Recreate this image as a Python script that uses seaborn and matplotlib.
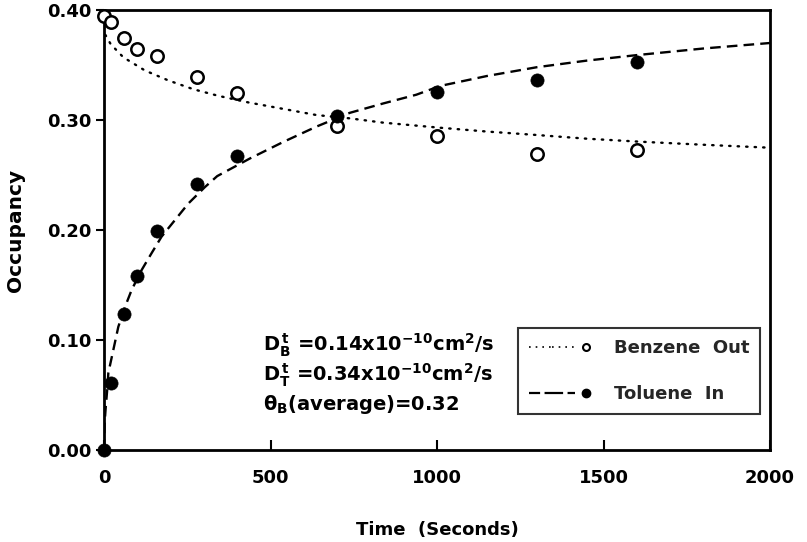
import matplotlib
matplotlib.use("Agg")
import matplotlib.pyplot as plt
import seaborn as sns
import pandas as pd
from matplotlib.lines import Line2D
from matplotlib.legend_handler import HandlerTuple

# ---- data ----
time_s = [0, 20, 60, 100, 160, 280, 400, 700, 1000, 1300, 1600]
benzene_out = [0.395, 0.389, 0.375, 0.365, 0.358, 0.339, 0.325, 0.295, 0.2855, 0.269, 0.273]
toluene_in = [0.0, 0.061, 0.124, 0.158, 0.199, 0.242, 0.267, 0.304, 0.3255, 0.336, 0.353]

benz_fit_t = [0, 3, 20, 58, 123, 193, 268, 343, 433, 540, 638, 738, 838, 1008, 1150, 1298, 1450, 1608, 1800, 2000]
benz_fit_y = [0.385, 0.378, 0.369, 0.357, 0.345, 0.336, 0.328, 0.322, 0.316, 0.310, 0.3045, 0.3015, 0.2976, 0.293,
              0.2895, 0.2864, 0.283, 0.2803, 0.2775, 0.2748]

tol_fit_t = [0, 2, 5, 10, 13, 28, 43, 63, 83, 113, 143, 173, 213, 253, 303, 340, 438, 538, 638, 738, 838, 938,
             1010, 1150, 1300, 1450, 1600, 1800, 2000]
tol_fit_y = [0.0, 0.025, 0.038, 0.056, 0.07, 0.091, 0.112, 0.130, 0.1455, 0.1636, 0.179, 0.194, 0.209, 0.224,
             0.239, 0.249, 0.265, 0.280, 0.294, 0.3065, 0.315, 0.323, 0.331, 0.340, 0.348, 0.354, 0.359, 0.365,
             0.370]

x_ticks = [0, 500, 1000, 1500, 2000]
y_ticks = [0.0, 0.1, 0.2, 0.3, 0.4]
y_ticklabels = ["0.00", "0.10", "0.20", "0.30", "0.40"]

# ---- plotting ----
sns.set_theme(style="white")
plt.rcParams["font.family"] = ["DejaVu Sans"]
plt.rcParams["mathtext.default"] = "regular"

fig = plt.figure(figsize=(8.07, 5.42), dpi=100)
ax = fig.add_axes([104 / 807, 1 - 450 / 542, (770 - 104) / 807, (450 - 10) / 542])

pts = pd.DataFrame({"t": time_s, "benz": benzene_out, "tol": toluene_in})
bfit = pd.DataFrame({"t": benz_fit_t, "y": benz_fit_y})
tfit = pd.DataFrame({"t": tol_fit_t, "y": tol_fit_y})

sns.lineplot(data=bfit, x="t", y="y", ax=ax, color="black", lw=1.7,
             linestyle=(0, (0.6, 3.0)), dash_capstyle="round", estimator=None, sort=False)
sns.lineplot(data=tfit, x="t", y="y", ax=ax, color="black", lw=1.7,
             linestyle=(0, (4.5, 2.6)), estimator=None, sort=False)
sns.scatterplot(data=pts, x="t", y="benz", ax=ax, marker="o", s=80,
                facecolor="white", edgecolor="black", linewidth=1.8, zorder=5, clip_on=False)
sns.scatterplot(data=pts, x="t", y="tol", ax=ax, marker="o", s=90,
                color="black", edgecolor="black", linewidth=0.5, zorder=6, clip_on=False)

ax.set_xlim(0, 2000)
ax.set_ylim(0, 0.40)
ax.set_xticks(x_ticks)
ax.set_yticks(y_ticks)
ax.set_yticklabels(y_ticklabels)
ax.tick_params(axis="x", direction="in", length=7, width=1.5, labelsize=13, pad=14, colors="black")
ax.tick_params(axis="y", direction="out", length=6, width=1.5, labelsize=13, pad=3, colors="black")
ax.tick_params(left=True, bottom=True)
for lab in ax.get_xticklabels() + ax.get_yticklabels():
    lab.set_fontweight("bold")
for sp in ax.spines.values():
    sp.set_visible(True)
    sp.set_color("black")
    sp.set_linewidth(2)

ax.set_xlabel("Time  (Seconds)", fontsize=13, fontweight="bold", color="black", labelpad=24)
ax.set_ylabel("Occupancy", fontsize=14.5, fontweight="bold", color="black", labelpad=16)

# annotation text
txt_kw = dict(transform=ax.transData, fontsize=14, fontweight="bold", color="black", va="center", ha="left")
ax.text(478, 0.095, r"D$_{B}^{\,t}$ =0.14x10$^{-10}$cm$^{2}$/s", **txt_kw)
ax.text(478, 0.068, r"D$_{T}^{\,t}$ =0.34x10$^{-10}$cm$^{2}$/s", **txt_kw)
ax.text(478, 0.041, r"θ$_{B}$(average)=0.32", **txt_kw)

# legend
l_dot = Line2D([], [], color="black", lw=1.2, linestyle=(0, (1, 3)))
l_dash = Line2D([], [], color="black", lw=1.6, linestyle=(0, (5, 2)))
m_open = Line2D([], [], color="black", marker="o", markersize=5, markerfacecolor="white",
                markeredgewidth=1.5, linestyle="none")
m_fill = Line2D([], [], color="black", marker="o", markersize=6, linestyle="none")
leg = ax.legend([(l_dot, l_dot, m_open), (l_dash, l_dash, m_fill)], ["Benzene  Out", "Toluene  In"],
                handler_map={tuple: HandlerTuple(ndivide=None, pad=0)},
                loc="upper left", bbox_to_anchor=((518 - 104) / 666, (450 - 328) / 440),
                prop={"size": 13, "weight": "bold"}, frameon=True, fancybox=False,
                handlelength=3.8, handletextpad=0.9,
                labelspacing=1.55, borderpad=0.6, borderaxespad=0)
leg.get_frame().set_edgecolor("black")
leg.get_frame().set_linewidth(1.5)

fig.savefig("out.png", dpi=100)
